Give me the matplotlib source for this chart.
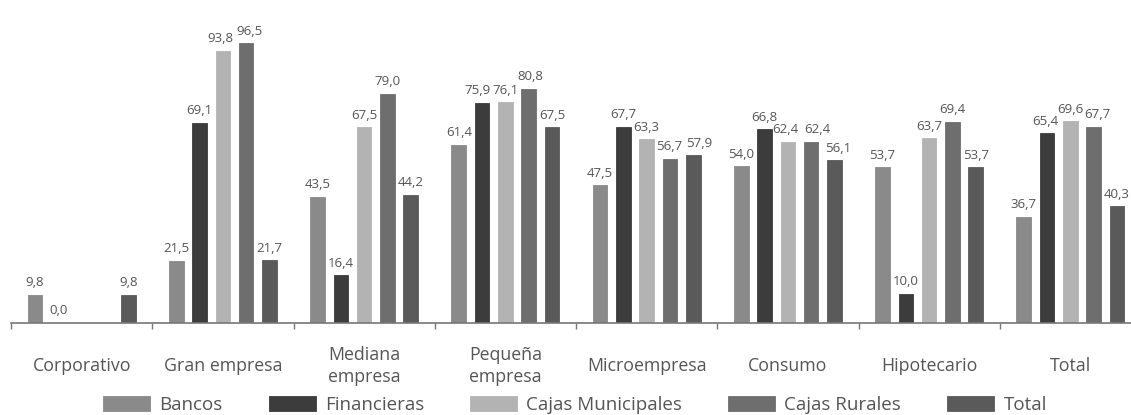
import numpy as np
import matplotlib
matplotlib.use("Agg")
import matplotlib.pyplot as plt

categories = ["Corporativo", "Gran empresa", "Mediana\nempresa", "Pequeña\nempresa",
              "Microempresa", "Consumo", "Hipotecario", "Total"]
series_names = ["Bancos", "Financieras", "Cajas Municipales", "Cajas Rurales", "Total"]
bancos = [9.8, 21.5, 43.5, 61.4, 47.5, 54.0, 53.7, 36.7]
financieras = [0.0, 69.1, 16.4, 75.9, 67.7, 66.8, 10.0, 65.4]
cajas_municipales = [np.nan, 93.8, 67.5, 76.1, 63.3, 62.4, 63.7, 69.6]
cajas_rurales = [np.nan, 96.5, 79.0, 80.8, 56.7, 62.4, 69.4, 67.7]
total = [9.8, 21.7, 44.2, 67.5, 57.9, 56.1, 53.7, 40.3]
series = [bancos, financieras, cajas_municipales, cajas_rurales, total]
colors = ["#8a8a8a", "#3c3c3c", "#b3b3b3", "#6e6e6e", "#5a5a5a"]

# small horizontal nudges (pixels) of value labels to avoid collisions, (group, series)
nudge = {(1, 2): -3, (1, 3): 3, (3, 1): -5, (3, 3): 2, (4, 3): -1, (4, 4): 6,
         (5, 2): -3, (5, 3): 6, (5, 4): 4, (7, 3): 4, (7, 1): -2}

plt.rcParams['font.family'] = ['Open Sans', 'DejaVu Sans']
W, H = 1131, 415
fig = plt.figure(figsize=(W / 100, H / 100), dpi=100)
ax = fig.add_axes([11 / W, 92 / H, 1130 / W, 323 / H])
ax.set_xlim(-0.5, len(categories) - 0.5)
ax.set_ylim(0, 323 / 2.9)

x = np.arange(len(categories))
pitch = 0.165
width = 0.103
for k, (vals, col, name) in enumerate(zip(series, colors, series_names)):
    v = np.array(vals, dtype=float)
    xs = x + (k - 2) * pitch
    ax.bar(xs, v, width=width, color=col, edgecolor=col, linewidth=0.6, label=name)
    for g, (xi, vi) in enumerate(zip(xs, v)):
        if np.isnan(vi):
            continue
        dx = nudge.get((g, k), 0) * 0.72
        ax.annotate(f"{vi:.1f}".replace(".", ","), (xi, vi), xytext=(dx, 4),
                    textcoords="offset points", ha="center", va="bottom",
                    fontsize=9.5, color="#555555")

for s in ["top", "right", "left"]:
    ax.spines[s].set_visible(False)
ax.spines["bottom"].set_color("#777777")
ax.spines["bottom"].set_linewidth(1.2)
ax.set_yticks([])
ax.set_xticks(np.arange(len(categories) + 1) - 0.5)
ax.set_xticklabels([])
ax.tick_params(axis="x", direction="out", length=4, width=1, color="#777777")

for xi, lab in zip(x, categories):
    ax.text(xi, -43 / 2.9, lab, ha="center", va="center", fontsize=12.8,
            color="#555555", linespacing=1.35, clip_on=False)

leg = fig.legend(loc="center", bbox_to_anchor=(575 / W, 1 - 405 / H), ncol=5,
                 frameon=False, fontsize=13.5, handlelength=2.5, handleheight=0.8,
                 handletextpad=0.5, columnspacing=2.45, labelcolor="#555555")

fig.savefig("out.png", dpi=100)
